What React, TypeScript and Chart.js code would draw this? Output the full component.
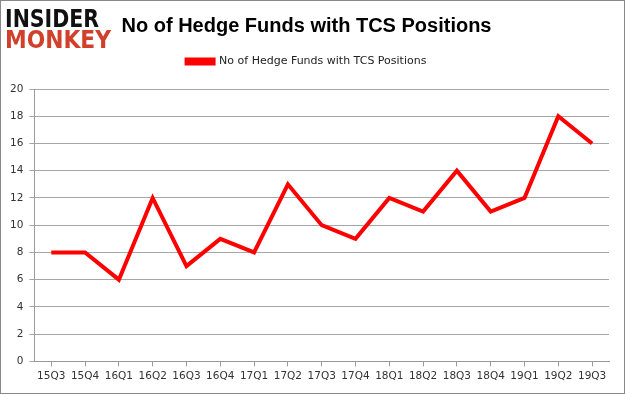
import React, { useEffect, useRef } from "react";
import { Chart, registerables } from "chart.js";

Chart.register(...registerables);

const categories = ["15Q3","15Q4","16Q1","16Q2","16Q3","16Q4","17Q1","17Q2","17Q3","17Q4","18Q1","18Q2","18Q3","18Q4","19Q1","19Q2","19Q3"];
const hedgeFunds = [8, 8, 6, 12, 7, 9, 8, 13, 10, 9, 12, 11, 14, 11, 12, 18, 16];
const seriesLabel = "No of Hedge Funds with TCS Positions";
const titleText = "No of Hedge Funds with TCS Positions";

const decor = {
  id: "decor",
  afterInit(chart: any) {
    const lg = chart.legend;
    if (lg) {
      const orig = lg.fit.bind(lg);
      lg.fit = function () {
        orig();
        this.height += 12;
      };
    }
  },
  afterDraw(chart: any) {
    const ctx = chart.ctx;
    ctx.save();
    ctx.strokeStyle = "#888888";
    ctx.lineWidth = 1;
    ctx.strokeRect(0.5, 0.5, chart.width - 1, chart.height - 1);
    ctx.textBaseline = "alphabetic";
    ctx.textAlign = "left";
    ctx.font = "bold 24px 'DejaVu Sans'";
    ctx.fillStyle = "#111111";
    ctx.fillText("INSIDER", 5, 27, 94);
    ctx.fillStyle = "#d0402b";
    ctx.fillText("MONKEY", 5, 48, 106);
    ctx.restore();
  },
};

export default function App() {
  const ref = useRef<HTMLCanvasElement>(null);
  useEffect(() => {
    document.body.style.margin = "0";
    const chart = new Chart(ref.current!, {
      type: "line",
      data: {
        labels: categories,
        datasets: [
          {
            label: seriesLabel,
            data: hedgeFunds,
            borderColor: "#ff0000",
            backgroundColor: "#ff0000",
            borderWidth: 4,
            pointRadius: 0,
            tension: 0,
          },
        ],
      },
      options: {
        responsive: false,
        animation: false,
        layout: { padding: { left: 4, right: 16, top: 0, bottom: 7 } },
        plugins: {
          title: {
            display: true,
            text: titleText,
            color: "#000000",
            font: { family: "'Liberation Sans'", size: 20, weight: "bold" },
            padding: { top: 14, bottom: 10 },
          },
          legend: {
            display: true,
            labels: {
              boxWidth: 27,
              boxHeight: 4,
              color: "#222222",
              font: { family: "'DejaVu Sans'", size: 11 },
              padding: 8,
            },
          },
          tooltip: { enabled: false },
        },
        scales: {
          x: {
            offset: true,
            grid: { display: true, drawOnChartArea: false, drawTicks: true, tickLength: 5, color: "#999999" },
            border: { color: "#999999" },
            ticks: { color: "#333333", font: { family: "'DejaVu Sans'", size: 10.5 }, maxRotation: 0, autoSkip: false, padding: 4 },
          },
          y: {
            min: 0,
            max: 20,
            grid: { color: "#a6a6a6", tickLength: 5 },
            border: { color: "#999999" },
            ticks: { stepSize: 2, color: "#333333", font: { family: "'DejaVu Sans'", size: 10.5 }, padding: 6 },
          },
        },
      },
      plugins: [decor],
    });
    return () => chart.destroy();
  }, []);
  return <canvas ref={ref} width={625} height={394} style={{ display: "block" }} />;
}
